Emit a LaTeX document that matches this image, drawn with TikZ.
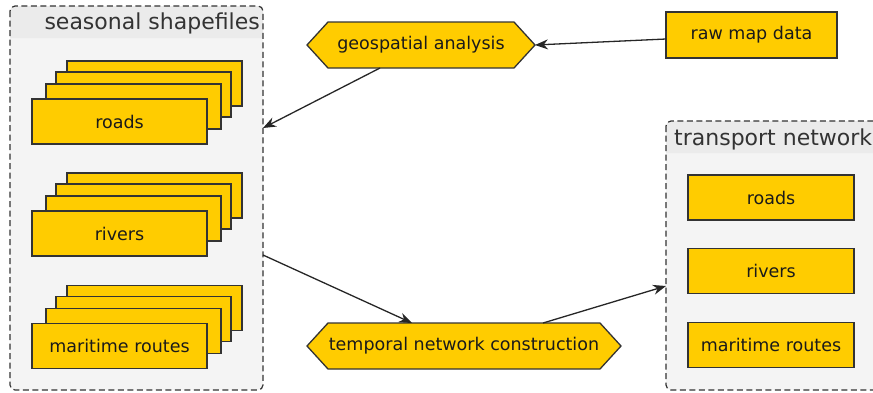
\documentclass[tikz,border=0pt]{standalone}
\usepackage{fontspec}
\setmainfont{DejaVu Sans}
\usetikzlibrary{arrows.meta,calc}
\pgfdeclarelayer{hexbg}
\pgfsetlayers{hexbg,main}
\definecolor{ybox}{HTML}{FFCC00}
\definecolor{bord}{HTML}{333333}
\definecolor{cfill}{HTML}{F4F4F4}
\definecolor{hfill}{HTML}{EBEBEB}
\definecolor{txt}{HTML}{1A1A1A}
\tikzset{
  lbl/.style={font=\fontsize{17.5}{21}\selectfont, text=txt},
  ybox/.style={lbl, draw=bord, fill=ybox, line width=1.3pt, minimum width=175pt, minimum height=45pt, inner sep=0pt, outer sep=0pt},
  tbox/.style={ybox, minimum width=166pt},
  hexnode/.style={lbl, inner sep=0pt, outer sep=0pt, minimum height=46pt},
  hexdraw/.style={draw=bord, fill=ybox, line width=1.3pt, line join=miter},
  cont/.style={fill=cfill, rounded corners=5pt, inner sep=0pt, outer sep=0pt},
  contborder/.style={draw=bord, line width=1.2pt, dash pattern=on 6pt off 3.5pt, rounded corners=5pt},
  hdrtxt/.style={font=\fontsize{22}{26}\selectfont, text=bord, inner sep=0pt},
  arr/.style={draw=black!85, line width=1.3pt, -{Stealth[length=13pt, width=10pt]}}
}
\begin{document}
\begin{tikzpicture}[x=1pt,y=-1pt]
\useasboundingbox (0,0) rectangle (873,392);

% left container
\node (seas) [cont, minimum width=253pt, minimum height=384pt] at (136.5,198) {};
\fill[hfill] ([yshift=-32pt]seas.north west) [rounded corners=5pt] -- (seas.north west) -- (seas.north east) [sharp corners] -- ([yshift=-32pt]seas.north east) -- cycle;
\draw[contborder] (seas.north west) rectangle (seas.south east);
\node (seashdr) [hdrtxt, anchor=base east] at (260,29) {seasonal shapefiles};

% stacked roads
\node (sroadsc) [ybox] at (154.5,83.5) {};
\node (sroadsb) [ybox] at (143.5,94.5) {};
\node (sroadsa) [ybox] at (133.5,106.5) {};
\node (sroads) [ybox] at (119.5,121.5) {roads};
% stacked rivers
\node (srivc) [ybox] at (154.5,195.5) {};
\node (srivb) [ybox] at (143.5,206.5) {};
\node (sriva) [ybox] at (133.5,218.5) {};
\node (sriv) [ybox] at (119.5,233.5) {rivers};
% stacked maritime
\node (smarc) [ybox] at (154.5,308) {};
\node (smarb) [ybox] at (143.5,319) {};
\node (smara) [ybox] at (133.5,331) {};
\node (smar) [ybox] at (119.5,346) {maritime routes};

% right container
\node (trn) [cont, minimum width=216pt, minimum height=269pt] at (774,255.5) {};
\fill[hfill] ([yshift=-32pt]trn.north west) [rounded corners=5pt] -- (trn.north west) -- (trn.north east) [sharp corners] -- ([yshift=-32pt]trn.north east) -- cycle;
\draw[contborder] (trn.north west) rectangle (trn.south east);
\node (trnhdr) [hdrtxt, anchor=base west] at (674,145) {transport network};
\node (troads) [tbox] at (771,197.5) {roads};
\node (triv) [tbox] at (771,271) {rivers};
\node (tmar) [tbox] at (771,345) {maritime routes};

% raw map data
\node (raw) [tbox, minimum width=171pt, minimum height=46pt] at (751.5,35) {raw map data};

% hexagons
\node (geo) [hexnode, minimum width=228pt] at (421,45) {geospatial analysis};
\node (tmp) [hexnode, minimum width=314pt] at (464,346) {temporal network construction};
\begin{pgfonlayer}{hexbg}
\draw[hexdraw] (geo.west) -- ([xshift=21pt]geo.north west) -- ([xshift=-21pt]geo.north east) -- (geo.east) -- ([xshift=-21pt]geo.south east) -- ([xshift=21pt]geo.south west) -- cycle;
\draw[hexdraw] (tmp.west) -- ([xshift=21pt]tmp.north west) -- ([xshift=-21pt]tmp.north east) -- (tmp.east) -- ([xshift=-21pt]tmp.south east) -- ([xshift=21pt]tmp.south west) -- cycle;
\end{pgfonlayer}

% connectors
\draw[arr] ([yshift=-4pt]raw.west) -- (geo.east);
\draw[arr] ([xshift=-41pt]geo.south) -- ([yshift=70pt]seas.east);
\draw[arr] ([yshift=-57pt]seas.east) -- ([xshift=-52pt]tmp.north);
\draw[arr] ([xshift=79pt]tmp.north) -- ([yshift=-30.5pt]trn.west);
\end{tikzpicture}
\end{document}
